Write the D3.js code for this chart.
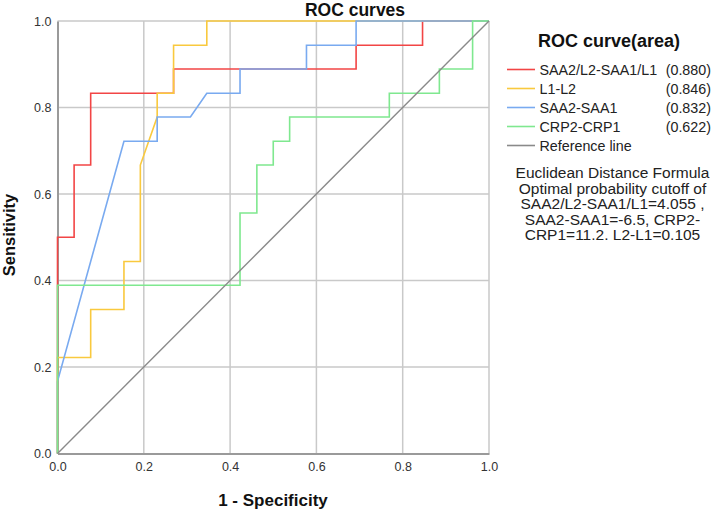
<!DOCTYPE html>
<html><head><meta charset="utf-8">
<script src="https://cdn.jsdelivr.net/npm/d3@7"></script>
<style>html,body{margin:0;padding:0;background:#fff}svg{display:block;font-family:"Liberation Sans",Arial,sans-serif}</style>
</head><body><svg id="c" width="714" height="512"></svg>
<script>
const seriesNames = ["SAA2/L2-SAA1/L1", "L1-L2", "SAA2-SAA1", "CRP2-CRP1"];
const seriesAreas = ["(0.880)", "(0.846)", "(0.832)", "(0.622)"];
const seriesColors = ["#f24545", "#f9c93e", "#79aaf0", "#7fe88f"];
// ROC points [1-specificity, sensitivity]
const rocSAAratio = [[0,0],[0,0.5],[0.0385,0.5],[0.0385,0.667],[0.0769,0.667],[0.0769,0.833],[0.269,0.833],[0.269,0.889],[0.692,0.889],[0.692,0.944],[0.846,0.944],[0.846,1],[1,1]];
const rocL = [[0,0],[0,0.222],[0.0769,0.222],[0.0769,0.333],[0.154,0.333],[0.154,0.444],[0.192,0.444],[0.192,0.667],[0.231,0.778],[0.231,0.833],[0.269,0.833],[0.269,0.944],[0.346,0.944],[0.346,1],[1,1]];
const rocSAA = [[0,0],[0,0.167],[0.154,0.722],[0.231,0.722],[0.231,0.778],[0.308,0.778],[0.346,0.833],[0.423,0.833],[0.423,0.889],[0.577,0.889],[0.577,0.944],[0.692,0.944],[0.692,1],[1,1]];
const rocCRP = [[0,0],[0,0.389],[0.423,0.389],[0.423,0.556],[0.462,0.556],[0.462,0.667],[0.5,0.667],[0.5,0.722],[0.538,0.722],[0.538,0.778],[0.769,0.778],[0.769,0.833],[0.885,0.833],[0.885,0.889],[0.962,0.889],[0.962,1],[1,1]];
const refLine = [[0,0],[1,1]];
const tickValues = [0, 0.2, 0.4, 0.6, 0.8, 1.0];
const noteLines = ["Euclidean Distance Formula", "Optimal probability cutoff of", "SAA2/L2-SAA1/L1=4.055 ,", "SAA2-SAA1=-6.5, CRP2-", "CRP1=11.2. L2-L1=0.105"];

const svg = d3.select("#c");
const x = d3.scaleLinear().domain([0,1]).range([57.5, 489]);
const y = d3.scaleLinear().domain([0,1]).range([453.5, 21]);

// grid
const g = svg.append("g");
g.selectAll(".vg").data(tickValues.slice(1)).join("line")
  .attr("x1", d=>x(d)).attr("x2", d=>x(d)).attr("y1", y(0)).attr("y2", y(1))
  .attr("stroke", "#c9c9c9").attr("stroke-width", 1.5);
g.selectAll(".hg").data(tickValues.slice(1)).join("line")
  .attr("x1", x(0)).attr("x2", x(1)).attr("y1", d=>y(d)).attr("y2", d=>y(d))
  .attr("stroke", "#c9c9c9").attr("stroke-width", 1.5);

// axes
const xAxis = svg.append("g").attr("transform", `translate(0,${y(0)})`)
  .call(d3.axisBottom(x).tickValues(tickValues).tickFormat(d3.format(".1f")).tickSize(0).tickPadding(6));
const yAxis = svg.append("g").attr("transform", `translate(${x(0)},0)`)
  .call(d3.axisLeft(y).tickValues(tickValues).tickFormat(d3.format(".1f")).tickSize(0).tickPadding(6));
[xAxis, yAxis].forEach(a => {
  a.select(".domain").attr("stroke", "#9a9a9a").attr("stroke-width", 2);
  a.selectAll("text").attr("font-size", 12.5).attr("fill", "#333").attr("font-family", "Liberation Sans, Arial, sans-serif");
});
xAxis.selectAll("text").attr("dy", "0.9em");

// curves
const line = d3.line().x(d=>x(d[0])).y(d=>y(d[1]));
const allSeries = [rocSAAratio, rocL, rocSAA, rocCRP];
svg.append("g").selectAll("path").data(allSeries).join("path")
  .attr("d", line).attr("fill", "none")
  .attr("stroke", (d,i)=>seriesColors[i]).attr("stroke-width", 1.6);
svg.append("path").datum(refLine).attr("d", line).attr("fill","none")
  .attr("stroke", "#8a8a8a").attr("stroke-width", 1.4);

// titles
svg.append("text").attr("x", 355).attr("y", 16).attr("text-anchor","middle")
  .attr("font-size", 17.5).attr("font-weight","bold").attr("fill","#111").text("ROC curves");
svg.append("text").attr("x", 273).attr("y", 506).attr("text-anchor","middle")
  .attr("font-size", 17).attr("font-weight","bold").attr("fill","#111").text("1 - Specificity");
svg.append("text").attr("transform","translate(15,235) rotate(-90)").attr("text-anchor","middle")
  .attr("font-size", 16.5).attr("font-weight","bold").attr("fill","#111").text("Sensitivity");

// legend
svg.append("text").attr("x", 609).attr("y", 47).attr("text-anchor","middle")
  .attr("font-size", 18).attr("font-weight","bold").attr("fill","#111").text("ROC curve(area)");
const legNames = seriesNames.concat(["Reference line"]);
const legColors = seriesColors.concat(["#8a8a8a"]);
const leg = svg.append("g").selectAll("g").data(legNames).join("g")
  .attr("transform", (d,i)=>`translate(0,${69.5 + i*19})`);
leg.append("line").attr("x1",507).attr("x2",535).attr("y1",0).attr("y2",0)
  .attr("stroke",(d,i)=>legColors[i]).attr("stroke-width",1.6);
leg.append("text").attr("x",539.5).attr("y",5).attr("font-size",14.3).attr("fill","#222").text(d=>d);
leg.filter((d,i)=>i<seriesAreas.length).append("text").attr("x",711).attr("y",5)
  .attr("text-anchor","end").attr("font-size",14.3).attr("fill","#222").text((d,i)=>seriesAreas[i]);

// note
svg.append("g").selectAll("text").data(noteLines).join("text")
  .attr("x", 612.5).attr("y",(d,i)=>178 + i*15.6).attr("text-anchor","middle")
  .attr("font-size", 15.5).attr("fill","#222").text(d=>d);
</script></body></html>
